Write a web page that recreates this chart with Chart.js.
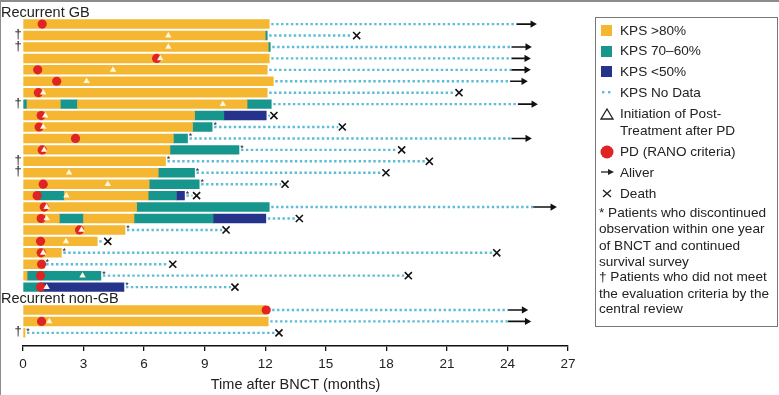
<!DOCTYPE html>
<html>
<head>
<meta charset="utf-8">
<script src="https://cdn.jsdelivr.net/npm/chart.js@4.4.1/dist/chart.umd.min.js"></script>
<style>
  body { margin: 0; background: #fff; font-family: "Liberation Sans", Arial, sans-serif; }
  #wrap { position: relative; width: 779px; height: 395px; }
  #frame { position: absolute; left: 0; top: 0; width: 779px; height: 395px; box-sizing: border-box;
           border-top: 2px solid #8c8c8c; border-left: 1px solid #8c8c8c; pointer-events: none; }
  #legend { position: absolute; left: 595px; top: 17px; width: 183px; height: 310px; box-sizing: border-box;
            border: 1px solid #777; color: #222; font-size: 13.6px; }
  #legend div { position: absolute; white-space: nowrap; line-height: 16px; }
  #legend svg { position: absolute; }
</style>
</head>
<body>
<div id="wrap">
  <canvas id="swimmerChart"></canvas>
  <div id="legend">
    <svg style="left:5px;top:7px" width="11" height="11"><rect width="11" height="11" fill="#f5b731"/></svg>
    <div style="left:24px;top:5px">KPS &gt;80%</div>
    <svg style="left:5px;top:28px" width="11" height="11"><rect width="11" height="11" fill="#16968c"/></svg>
    <div style="left:24px;top:25px">KPS 70–60%</div>
    <svg style="left:5px;top:48px" width="11" height="11"><rect width="11" height="11" fill="#25338b"/></svg>
    <div style="left:24px;top:46px">KPS &lt;50%</div>
    <svg style="left:5px;top:73px" width="12" height="4"><rect x="1" y="0" width="2.4" height="2.4" fill="#5bbdd6"/><rect x="7" y="0" width="2.4" height="2.4" fill="#5bbdd6"/></svg>
    <div style="left:24px;top:67px">KPS No Data</div>
    <svg style="left:4px;top:90px" width="14" height="12"><polygon points="7,1 13,11 1,11" fill="none" stroke="#222" stroke-width="1.3"/></svg>
    <div style="left:24px;top:88px">Initiation of Post-</div>
    <div style="left:24px;top:105px">Treatment after PD</div>
    <svg style="left:4px;top:127px" width="14" height="14"><circle cx="7" cy="7" r="6.5" fill="#e02424"/></svg>
    <div style="left:24px;top:126px">PD (RANO criteria)</div>
    <svg style="left:5px;top:150px" width="14" height="8"><line x1="0" y1="4" x2="9" y2="4" stroke="#222" stroke-width="1.3"/><polygon points="7,1 13,4 7,7" fill="#222"/></svg>
    <div style="left:24px;top:147px">Aliver</div>
    <svg style="left:6px;top:171px" width="10" height="9"><path d="M1 1 L9 8 M9 1 L1 8" stroke="#222" stroke-width="1.4"/></svg>
    <div style="left:24px;top:168px">Death</div>
    <div style="left:3px;top:187px">* Patients who discontinued</div>
    <div style="left:3px;top:203px">observation within one year</div>
    <div style="left:3px;top:220px">of BNCT and continued</div>
    <div style="left:3px;top:236px">survival survey</div>
    <div style="left:3px;top:251px">† Patients who did not meet</div>
    <div style="left:3px;top:268px">the evaluation criteria by the</div>
    <div style="left:3px;top:283px">central review</div>
  </div>
  <div id="frame"></div>
</div>
<script>
// Group titles and the y slot they sit on
const groupTitles = ['Recurrent GB', 'Recurrent non-GB'];
const groupSlots = [0, 25];

// One entry per patient (24 recurrent GB, then 3 recurrent non-GB)
const rowSlot = [1, 2, 3, 4, 5, 6, 7, 8, 9, 10, 11, 12, 13, 14, 15, 16, 17, 18, 19, 20, 21, 22, 23, 24, 26, 27, 28];

// KPS periods in months: [start, end, level]
const kpsPeriods = [
    [[0, 12.2, 'high']],
    [[0, 12.0, 'high'], [12.0, 12.1, 'mid']],
    [[0, 12.15, 'high'], [12.15, 12.25, 'mid']],
    [[0, 12.2, 'high']],
    [[0, 12.1, 'high']],
    [[0, 12.4, 'high']],
    [[0, 12.1, 'high']],
    [[0, 0.2, 'mid'], [0.2, 1.85, 'high'], [1.85, 2.7, 'mid'], [2.7, 11.1, 'high'], [11.1, 12.3, 'mid']],
    [[0, 8.5, 'high'], [8.5, 9.95, 'mid'], [9.95, 12.05, 'low']],
    [[0, 8.4, 'high'], [8.4, 9.37, 'mid']],
    [[0, 7.45, 'high'], [7.45, 8.15, 'mid']],
    [[0, 7.28, 'high'], [7.28, 10.7, 'mid']],
    [[0, 7.06, 'high']],
    [[0, 6.7, 'high'], [6.7, 8.5, 'mid']],
    [[0, 6.25, 'high'], [6.25, 8.73, 'mid']],
    [[0, 0.7, 'high'], [0.7, 2.05, 'mid'], [2.05, 6.2, 'high'], [6.2, 7.6, 'mid'], [7.6, 8.0, 'low']],
    [[0, 5.63, 'high'], [5.63, 12.2, 'mid']],
    [[0, 1.8, 'high'], [1.8, 3.0, 'mid'], [3.0, 5.5, 'high'], [5.5, 9.42, 'mid'], [9.42, 12.03, 'low']],
    [[0, 5.05, 'high']],
    [[0, 3.68, 'high']],
    [[0, 1.9, 'high']],
    [[0, 1.05, 'high']],
    [[0, 0.2, 'high'], [0.2, 3.86, 'mid']],
    [[0, 0.85, 'mid'], [0.85, 5.0, 'low']],
    [[0, 12.0, 'high']],
    [[0, 12.15, 'high']],
    [[0, 0.1, 'high']]
];

// Last follow-up (months) and status there
const followUpEnd = [24.45, 16.53, 24.2, 24.2, 24.2, 24.13, 21.6, 24.52, 12.43, 15.82, 24.2, 18.76, 20.13, 17.98,
                     12.98, 8.6, 25.28, 13.69, 10.06, 4.2, 23.47, 7.42, 19.09, 10.5, 24.03, 24.03, 12.68];
const status = ['alive', 'death', 'alive', 'alive', 'alive', 'alive', 'death', 'alive', 'death', 'death', 'alive', 'death',
                'death', 'death', 'death', 'death', 'alive', 'death', 'death', 'death', 'death', 'death', 'death', 'death',
                'alive', 'alive', 'death'];
const arrowTip = [25.45, null, 25.2, 25.15, 25.15, 25.0, null, 25.5, null, null, 25.2, null, null, null,
                  null, null, 26.44, null, null, null, null, null, null, null, 25.02, 25.17, null];

// PD (RANO) and start of post-treatment, months
const pdMonth = [0.95, null, null, 6.62, 0.73, 1.67, 0.76, null, 0.9, 0.8, 2.6, 0.95, null, null,
                 1.0, 0.7, 1.05, 0.9, 2.8, 0.87, 0.9, 0.92, 0.87, 0.87, 12.05, 0.92, null];
const postTxMonth = [null, 7.2, 7.2, 6.8, 4.46, 3.15, 1.0, 9.9, 1.1, 1.0, null, 1.05, null, 2.28,
                     4.2, 2.15, 1.17, 1.17, 2.9, 2.13, 1.0, null, 2.95, 1.17, null, 1.3, null];

// † = did not meet evaluation criteria, * = discontinued observation within one year
const daggerRow = [0, 1, 1, 0, 0, 0, 0, 1, 0, 0, 0, 0, 1, 1, 0, 0, 0, 0, 0, 0, 0, 0, 0, 0, 0, 0, 1];
const asteriskRow = [0, 0, 0, 0, 0, 0, 0, 0, 0, 1, 1, 1, 1, 1, 1, 1, 0, 0, 1, 0, 1, 1, 1, 1, 0, 0, 1];

const xTicks = [0, 3, 6, 9, 12, 15, 18, 21, 24, 27];

const kpsColors = { high: '#f5b731', mid: '#16968c', low: '#25338b' };
const FONT = '"Liberation Sans", Arial, sans-serif';

Chart.defaults.font.family = FONT;
Chart.defaults.color = '#222';

var datasets = [];

// KPS bars, one dataset per level (floating bars overlap on their row)
['high', 'mid', 'low'].forEach(function(level) {
    var points = [];
    kpsPeriods.forEach(function(periods, i) {
        periods.forEach(function(p) {
            if (p[2] === level) points.push({ x: [p[0], p[1]], y: rowSlot[i] });
        });
    });
    datasets.push({
        type: 'bar', data: points, backgroundColor: kpsColors[level],
        barThickness: 8.8, grouped: false, borderWidth: 0, order: 10
    });
});

// Dotted "no data" follow-up lines and arrow shafts
kpsPeriods.forEach(function(periods, i) {
    var barEnd = periods[periods.length - 1][1];
    var stop = status[i] === 'death' ? followUpEnd[i] - 0.2 : followUpEnd[i];
    datasets.push({
        type: 'line', data: [{ x: barEnd + 0.1, y: rowSlot[i] }, { x: stop, y: rowSlot[i] }],
        borderColor: '#5bbdd6', borderWidth: 2.4, borderDash: [2.4, 2.5], pointRadius: 0, order: 5
    });
    if (status[i] === 'alive') {
        datasets.push({
            type: 'line', data: [{ x: followUpEnd[i], y: rowSlot[i] }, { x: arrowTip[i] - 0.25, y: rowSlot[i] }],
            borderColor: '#111', borderWidth: 1.6, pointRadius: 0, order: 4
        });
    }
});

function pointsFrom(values, shift) {
    var pts = [];
    values.forEach(function(v, i) {
        if (v !== null) pts.push({ x: v + (shift || 0), y: rowSlot[i] });
    });
    return pts;
}

// Arrowheads for patients still alive
datasets.push({
    type: 'scatter', data: pointsFrom(arrowTip, -0.2), pointStyle: 'triangle', rotation: 90,
    pointRadius: 4.2, backgroundColor: '#111', borderWidth: 0, order: 3
});
// Deaths
datasets.push({
    type: 'scatter', data: pointsFrom(followUpEnd.map(function(v, i) { return status[i] === 'death' ? v : null; })),
    pointStyle: 'crossRot', pointRadius: 5, borderColor: '#111', borderWidth: 1.6, order: 3
});
// PD
datasets.push({
    type: 'scatter', data: pointsFrom(pdMonth), pointStyle: 'circle',
    pointRadius: 4.6, backgroundColor: '#e02424', borderWidth: 0, order: 2
});
// Post-treatment start
datasets.push({
    type: 'scatter', data: pointsFrom(postTxMonth), pointStyle: 'triangle',
    pointRadius: 3.7, backgroundColor: '#fff6df', borderWidth: 0, order: 1
});

// Group titles, daggers and asterisks placed through the scales
const annotationText = {
    id: 'annotationText',
    afterDatasetsDraw: function(chart) {
        var ctx = chart.ctx, x = chart.scales.x, y = chart.scales.y;
        ctx.save();
        ctx.fillStyle = '#222';
        ctx.textBaseline = 'middle';
        ctx.textAlign = 'left';
        ctx.font = '14.5px ' + FONT;
        groupTitles.forEach(function(t, i) {
            ctx.fillText(t, 1, y.getPixelForValue(groupSlots[i]));
        });
        ctx.textAlign = 'center';
        ctx.font = '13px ' + FONT;
        daggerRow.forEach(function(d, i) {
            if (d) ctx.fillText('†', 18, y.getPixelForValue(rowSlot[i]) - 1);
        });
        ctx.font = '9px ' + FONT;
        asteriskRow.forEach(function(a, i) {
            if (!a) return;
            var periods = kpsPeriods[i];
            var barEnd = periods[periods.length - 1][1];
            ctx.fillText('*', x.getPixelForValue(barEnd) + 3, y.getPixelForValue(rowSlot[i]) - 1.5);
        });
        ctx.restore();
    }
};

var ctx = document.getElementById('swimmerChart').getContext('2d');
var swimmerChart = new Chart(ctx, {
    type: 'bar',
    data: { datasets: datasets },
    options: {
        indexAxis: 'y',
        responsive: true,
        maintainAspectRatio: false,
        animation: false,
        layout: { padding: { left: 23, right: 211, top: 3, bottom: 0 } },
        plugins: { legend: { display: false }, tooltip: { enabled: false } },
        scales: {
            x: {
                type: 'linear', min: 0, max: 27,
                afterBuildTicks: function(scale) {
                    scale.ticks = xTicks.map(function(v) { return { value: v }; });
                },
                afterFit: function(scale) { scale.height = 49; },
                ticks: { font: { size: 13.5 }, color: '#222', padding: 5 },
                grid: { drawOnChartArea: false, drawTicks: true, tickLength: 5, color: '#111', lineWidth: 1.3 },
                border: { display: true, color: '#111', width: 1.5 },
                title: { display: true, text: 'Time after BNCT (months)', font: { size: 14.5 }, color: '#222',
                         padding: { top: 0, bottom: 1 } }
            },
            y: {
                type: 'linear', reverse: true, min: -0.53, max: 29.15,
                offset: false,
                display: false
            }
        }
    },
    plugins: [annotationText]
});
</script>
</body>
</html>
